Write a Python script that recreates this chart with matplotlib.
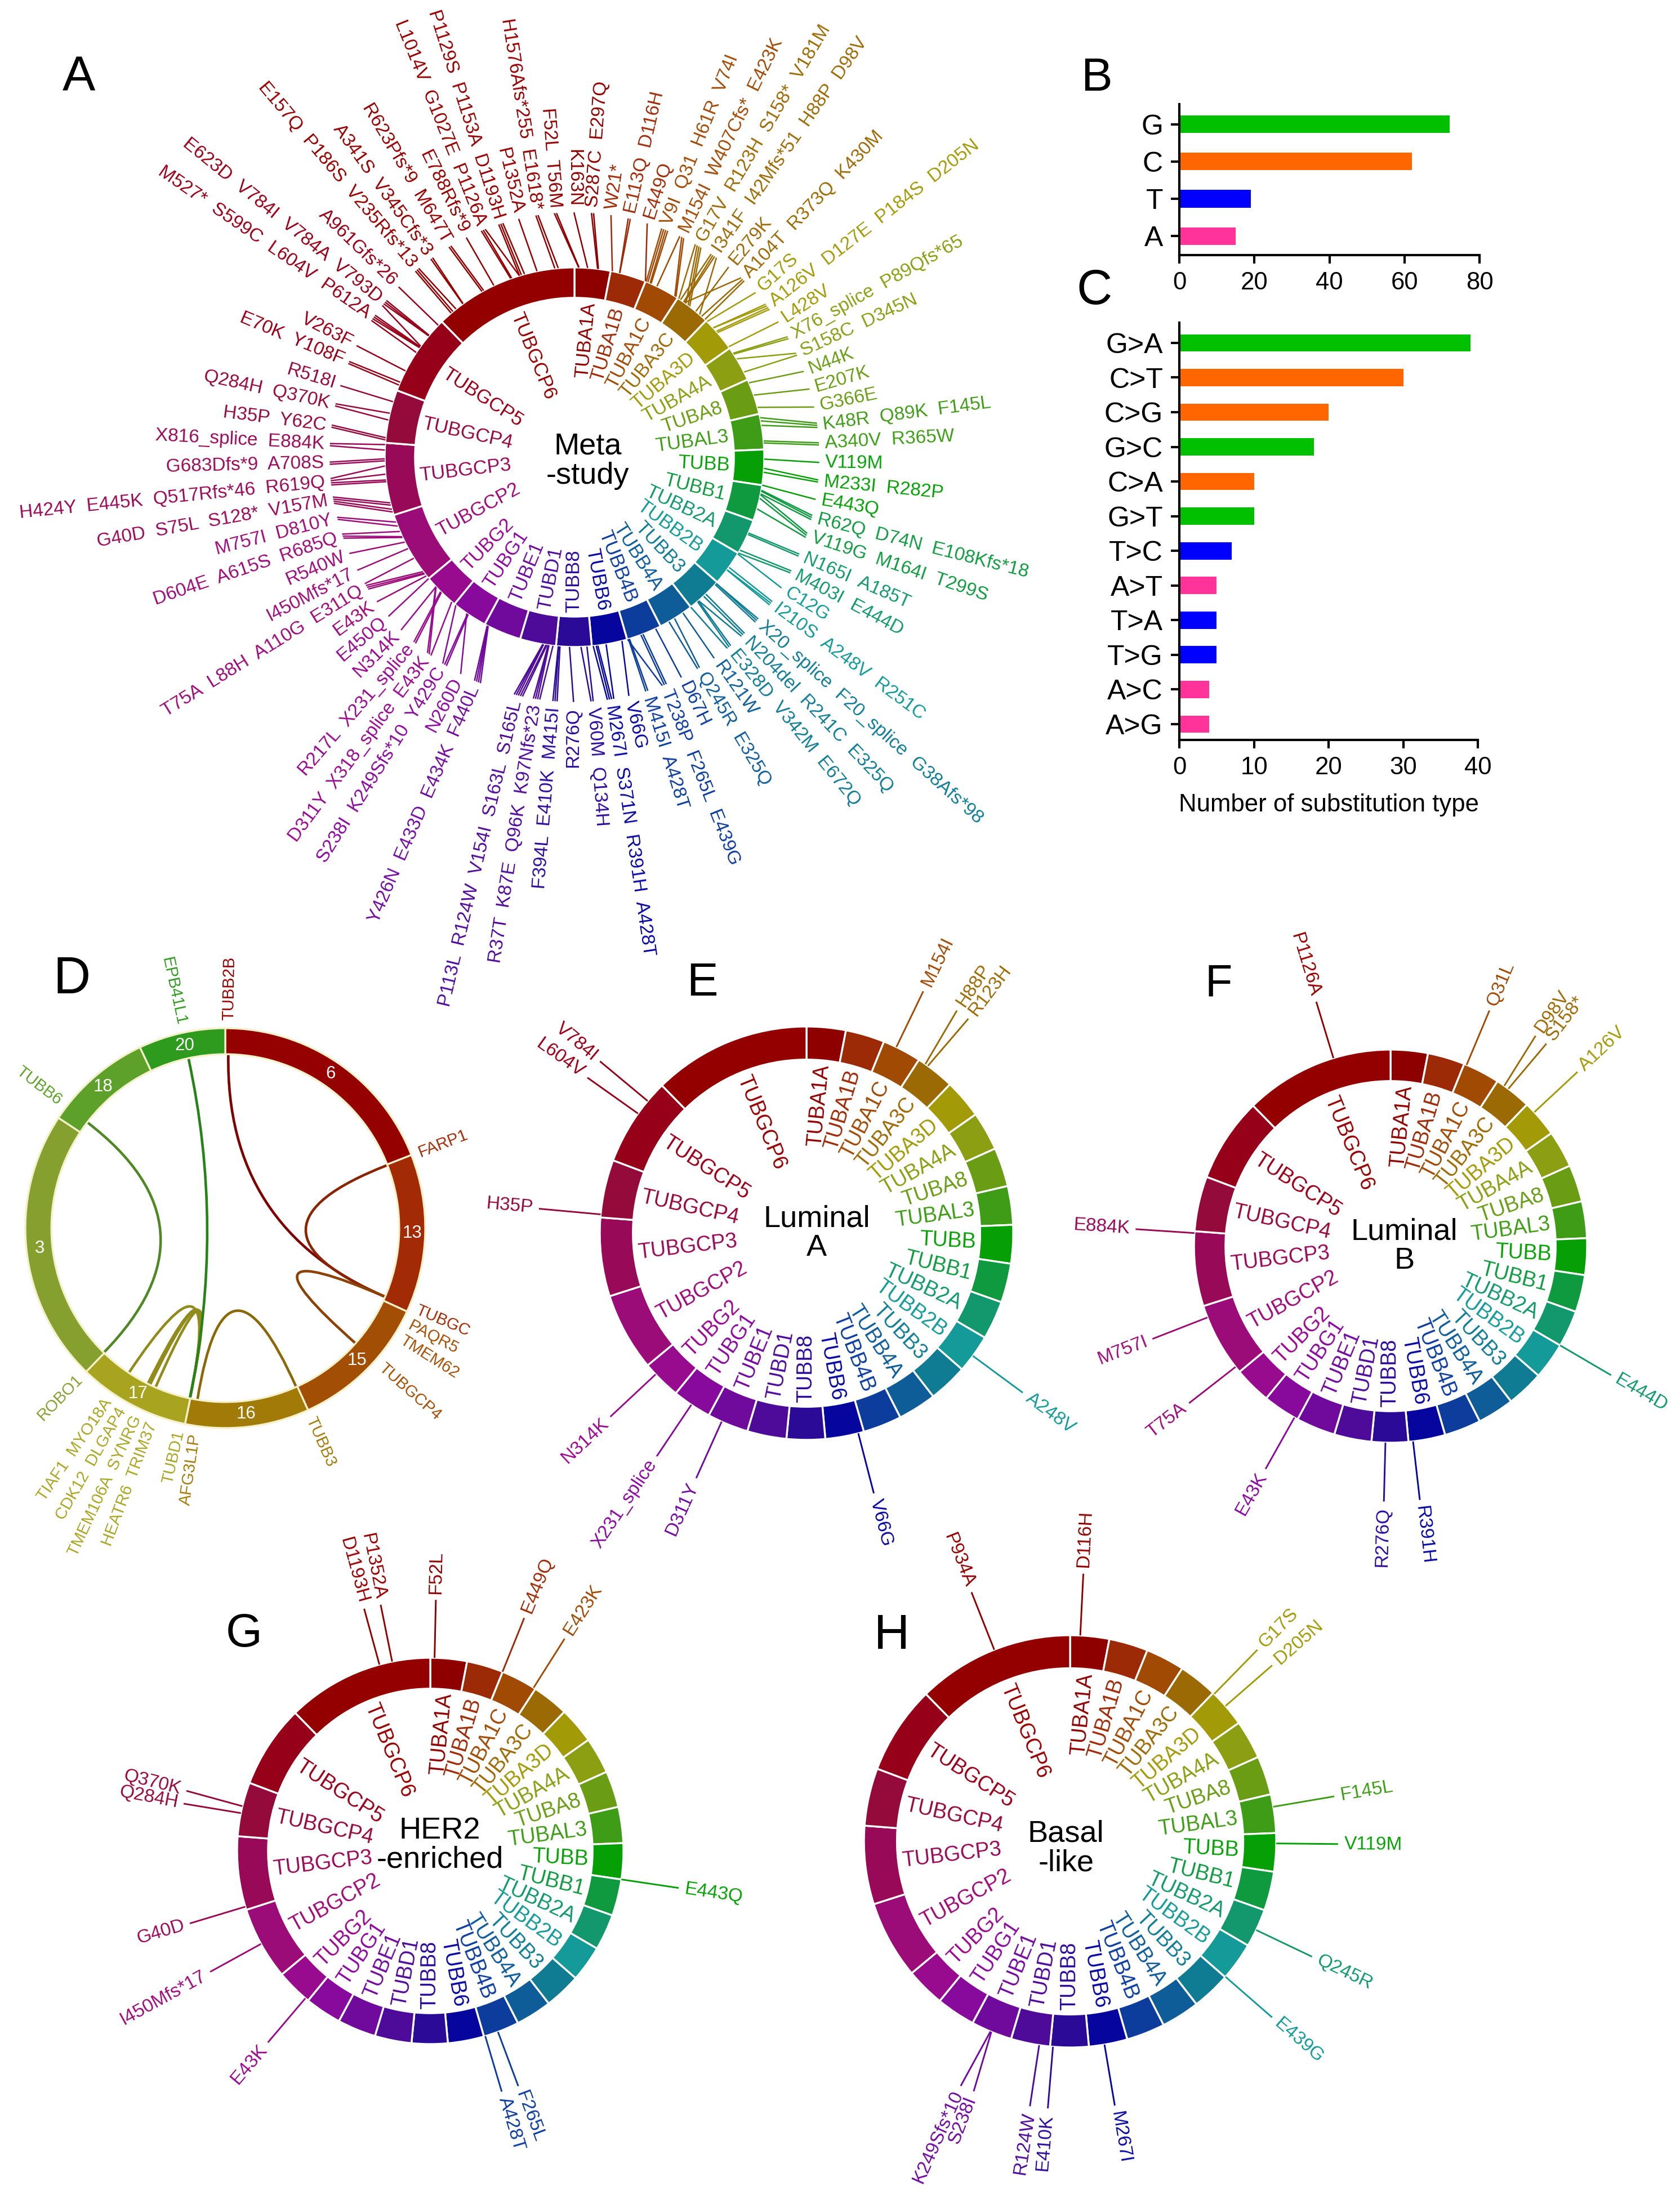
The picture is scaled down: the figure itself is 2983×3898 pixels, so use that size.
import re
import numpy as np
import matplotlib
matplotlib.use("Agg")
import matplotlib.pyplot as plt
from matplotlib.patches import Wedge, PathPatch
from matplotlib.path import Path

plt.rcParams['font.family'] = ['Liberation Sans', 'DejaVu Sans']

W, H = 2983, 3898
DPI = 300

# ---- tubulin ring: genes clockwise from 12 o'clock, protein length (aa)
genes = ["TUBA1A", "TUBA1B", "TUBA1C", "TUBA3C", "TUBA3D", "TUBA4A", "TUBA8",
         "TUBAL3", "TUBB", "TUBB1", "TUBB2A", "TUBB2B", "TUBB3", "TUBB4A",
         "TUBB4B", "TUBB6", "TUBB8", "TUBD1", "TUBE1", "TUBG1", "TUBG2",
         "TUBGCP2", "TUBGCP3", "TUBGCP4", "TUBGCP5", "TUBGCP6"]
gene_len = [451, 451, 449, 450, 450, 448, 449, 446, 444, 451, 445, 445, 450,
            444, 445, 446, 444, 453, 475, 451, 451, 902, 907, 667, 1024, 1819]
gene_colors = ["#8E0000", "#9C2A06", "#A04A04", "#9C6A04", "#A39A08", "#8C9E12",
               "#6A9C14", "#3E9C16", "#06A006", "#109A40", "#12986C", "#149A98",
               "#107C94", "#0E5C98", "#0C3C9C", "#06069E", "#2C0A98", "#4E0A98",
               "#700A9C", "#880A9C", "#980A8E", "#9C0C78", "#980A58", "#940A3A",
               "#960018", "#940000"]

# ---- A: meta-study mutations (gene, label)
meta_muts = [
    ("TUBA1A", "F52L  T56M"), ("TUBA1A", "K163N"), ("TUBA1A", "S287C  E297Q"),
    ("TUBA1B", "W21*"), ("TUBA1B", "E113Q  D116H"), ("TUBA1B", "E449Q"),
    ("TUBA1C", "V9I  Q31  H61R  V74I"), ("TUBA1C", "M154I  W407Cfs*  E423K"),
    ("TUBA3C", "I341F  I42Mfs*51  H88P  D98V"), ("TUBA3C", "G17V  R123H  S158*  V181M"),
    ("TUBA3C", "A104T  R373Q  K430M"), ("TUBA3C", "E279K"),
    ("TUBA3D", "G17S"), ("TUBA3D", "A126V  D127E  P184S  D205N"), ("TUBA3D", "L428V"),
    ("TUBA4A", "X76_splice  P89Qfs*65"), ("TUBA4A", "S158C  D345N"),
    ("TUBA8", "N44K"), ("TUBA8", "E207K"), ("TUBA8", "G366E"),
    ("TUBAL3", "K48R  Q89K  F145L"), ("TUBAL3", "A340V  R365W"),
    ("TUBB", "V119M"), ("TUBB", "M233I  R282P"), ("TUBB", "E443Q"),
    ("TUBB1", "R62Q  D74N  E108Kfs*18"), ("TUBB1", "V119G  M164I  T299S"),
    ("TUBB2A", "N165I  A185T"), ("TUBB2A", "M403I  E444D"),
    ("TUBB2B", "C12G"), ("TUBB2B", "I210S  A248V  R251C"),
    ("TUBB3", "X20_splice  F20_splice  G38Afs*98"), ("TUBB3", "N204del  R241C  E325Q"),
    ("TUBB3", "E328D  V342M  E672Q"),
    ("TUBB4A", "R121W"), ("TUBB4A", "Q245R  E325Q"),
    ("TUBB4B", "D67H"), ("TUBB4B", "T238P  F265L  E439G"), ("TUBB4B", "M415I  A428T"),
    ("TUBB6", "V66G"), ("TUBB6", "M267I  S371N  R391H  A428T"),
    ("TUBB8", "V60M  Q134H"), ("TUBB8", "R276Q"), ("TUBB8", "F394L  E410K  M415I"),
    ("TUBD1", "R37T  K87E  Q96K  K97Nfs*23"), ("TUBD1", "P113L  R124W  V154I  S163L  S165L"),
    ("TUBE1", "Y426N  E433D  E434K  F440L"),
    ("TUBG1", "N260D"), ("TUBG1", "S238I  K249Sfs*10  Y429C"),
    ("TUBG2", "D311Y  X318_splice  E43K"), ("TUBG2", "R217L  X231_splice"),
    ("TUBG2", "N314K"), ("TUBG2", "E450Q"),
    ("TUBGCP2", "E43K"), ("TUBGCP2", "T75A  L88H  A110G  E311Q"), ("TUBGCP2", "I450Mfs*17"),
    ("TUBGCP2", "R540W"), ("TUBGCP2", "D604E  A615S  R685Q"), ("TUBGCP2", "M757I  D810Y"),
    ("TUBGCP3", "G40D  S75L  S128*  V157M"), ("TUBGCP3", "H424Y  E445K  Q517Rfs*46  R619Q"),
    ("TUBGCP3", "G683Dfs*9  A708S"), ("TUBGCP3", "X816_splice  E884K"),
    ("TUBGCP4", "H35P  Y62C"), ("TUBGCP4", "Q284H  Q370K"), ("TUBGCP4", "R518I"),
    ("TUBGCP5", "E70K  Y108F"), ("TUBGCP5", "V263F"), ("TUBGCP5", "M527*  S599C  L604V  P612A"),
    ("TUBGCP5", "E623D  V784I  V784A  V793D"), ("TUBGCP5", "A961Gfs*26"),
    ("TUBGCP6", "E157Q  P186S  V235Rfs*13"), ("TUBGCP6", "A341S  V345Cfs*3"),
    ("TUBGCP6", "R623Pfs*9  M647T"), ("TUBGCP6", "E788Rfs*9"),
    ("TUBGCP6", "L1014V  G1027E  P1126A"), ("TUBGCP6", "P1129S  P1153A  D1193H"),
    ("TUBGCP6", "P1352A"), ("TUBGCP6", "H1576Afs*255  E1618*"),
]

# ---- E-H: subtype mutations
lumA_muts = [("TUBA1C", "M154I"), ("TUBA3C", "H88P"), ("TUBA3C", "R123H"),
             ("TUBB2B", "A248V"), ("TUBB6", "V66G"), ("TUBE1", "D311Y"),
             ("TUBG1", "X231_splice"), ("TUBG2", "N314K"), ("TUBGCP4", "H35P"),
             ("TUBGCP5", "L604V"), ("TUBGCP5", "V784I")]
lumB_muts = [("TUBA1C", "Q31L"), ("TUBA3C", "D98V"), ("TUBA3C", "S158*"),
             ("TUBA3D", "A126V"), ("TUBB2A", "E444D"), ("TUBB6", "R391H"),
             ("TUBB8", "R276Q"), ("TUBG1", "E43K"), ("TUBGCP2", "T75A"),
             ("TUBGCP2", "M757I"), ("TUBGCP3", "E884K"), ("TUBGCP6", "P1126A")]
her2_muts = [("TUBA1A", "F52L"), ("TUBA1B", "E449Q"), ("TUBA1C", "E423K"),
             ("TUBB", "E443Q"), ("TUBB4B", "F265L"), ("TUBB4B", "A428T"),
             ("TUBG2", "E43K"), ("TUBGCP2", "I450Mfs*17"), ("TUBGCP3", "G40D"),
             ("TUBGCP4", "Q284H"), ("TUBGCP4", "Q370K"), ("TUBGCP6", "D1193H"),
             ("TUBGCP6", "P1352A")]
basal_muts = [("TUBA1A", "D116H"), ("TUBA3D", "G17S"), ("TUBA3D", "D205N"),
              ("TUBAL3", "F145L"), ("TUBB", "V119M"), ("TUBB2A", "Q245R"),
              ("TUBB2B", "E439G"), ("TUBB6", "M267I"), ("TUBB8", "E410K"),
              ("TUBD1", "R124W"), ("TUBE1", "S238I"), ("TUBE1", "K249Sfs*10"),
              ("TUBGCP6", "P934A")]

# ---- B, C: substitution counts
bases = ["G", "C", "T", "A"]
base_counts = [72, 62, 19, 15]
subs = ["G>A", "C>T", "C>G", "G>C", "C>A", "G>T", "T>C", "A>T", "T>A", "T>G", "A>C", "A>G"]
sub_counts = [39, 30, 20, 18, 10, 10, 7, 5, 5, 5, 4, 4]
nt_colors = {"G": "#00C000", "C": "#FF6600", "T": "#0000FF", "A": "#FF3399"}

# ---- D: structural variants
chroms = ["6", "13", "15", "16", "17", "3", "18", "20"]
chrom_mb = [171, 115, 102, 90, 81, 198, 78, 63]
chrom_colors = ["#950000", "#A22A05", "#A34E05", "#A27A08", "#A9A420",
                "#86A030", "#5DA02A", "#2E9A1E"]
sv_genes = {"TUBB2B": ("6", 2.5), "FARP1": ("13", 0.5), "TUBGCP3": ("13", 111.5),
            "PAQR5": ("15", 8), "TMEM62": ("15", 18), "TUBGCP4": ("15", 42),
            "TUBB3": ("16", 1), "AFG3L1P": ("16", 84), "TUBD1": ("17", 0.3),
            "TRIM37": ("17", 30), "SYNRG": ("17", 35), "DLGAP4": ("17", 37),
            "MYO18A": ("17", 55), "ROBO1": ("3", 0.5), "TUBB6": ("18", 10),
            "EPB41L1": ("20", 32.5)}
sv_labels = [("TUBB2B", "TUBB2B"), ("FARP1", "FARP1"), ("TUBGC", "TUBGCP3"),
             ("PAQR5", "PAQR5"), ("TMEM62", "TMEM62"), ("TUBGCP4", "TUBGCP4"),
             ("TUBB3", "TUBB3"), ("AFG3L1P", "AFG3L1P"), ("TUBD1", "TUBD1"),
             ("HEATR6  TRIM37", "TRIM37"), ("TMEM106A  SYNRG", "SYNRG"),
             ("CDK12  DLGAP4", "DLGAP4"), ("TIAF1  MYO18A", "MYO18A"),
             ("ROBO1", "ROBO1"), ("TUBB6", "TUBB6"), ("EPB41L1", "EPB41L1")]
sv_links = [("TUBB2B", "TUBGCP3"), ("FARP1", "TUBGCP3"), ("TUBGCP4", "TUBGCP3"),
            ("TUBB3", "AFG3L1P"), ("TUBD1", "MYO18A"), ("TUBD1", "DLGAP4"),
            ("TUBD1", "SYNRG"), ("TUBD1", "TRIM37"), ("EPB41L1", "TUBD1"),
            ("TUBB6", "ROBO1")]

fig = plt.figure(figsize=((W + 0.1) / DPI, (H + 0.1) / DPI), dpi=DPI)

glen = np.array(gene_len, float)
gdeg = 360.0 * glen / glen.sum()
gstart = np.concatenate([[0.0], np.cumsum(gdeg)[:-1]])
gidx = {g: i for i, g in enumerate(genes)}


def circ_axes(cx, cy, r):
    ax = fig.add_axes([(cx - r) / W, 1 - (cy + r) / H, 2 * r / W, 2 * r / H])
    ax.set_xlim(-1, 1)
    ax.set_ylim(-1, 1)
    ax.axis("off")
    return ax


def pol(c, r):
    th = np.radians(90.0 - c)
    return r * np.cos(th), r * np.sin(th)


def radial_text(ax, c, r, s, color, fs, inward=False):
    th = 90.0 - c
    x, y = pol(c, r)
    right = np.cos(np.radians(th)) >= -1e-9
    rot = th if right else th + 180
    if inward:
        ha = "right" if right else "left"
    else:
        ha = "left" if right else "right"
    ax.text(x, y, s, color=color, fontsize=fs, rotation=rot, rotation_mode="anchor",
            ha=ha, va="center", transform_rotates_text=True)


def pava(y):
    vals, cnt = [], []
    for v in y:
        vals.append(v)
        cnt.append(1)
        while len(vals) > 1 and vals[-2] > vals[-1]:
            v2, c2 = vals.pop(), cnt.pop()
            v1, c1 = vals.pop(), cnt.pop()
            vals.append((v1 * c1 + v2 * c2) / (c1 + c2))
            cnt.append(c1 + c2)
    out = []
    for v, c in zip(vals, cnt):
        out += [v] * c
    return np.array(out)


def spread(want, sep):
    # least-squares label angles with neighbours at least sep apart (cut at widest gap)
    w = np.asarray(want, float) % 360.0
    n = len(w)
    order = np.argsort(w)
    s = w[order]
    gaps = np.diff(np.concatenate([s, [s[0] + 360.0]]))
    k = (int(np.argmax(gaps)) + 1) % n
    idx = np.roll(np.arange(n), -k)
    seq = s[idx].copy()
    seq[seq < seq[0]] += 360.0
    steps = np.arange(n) * sep
    b = pava(seq - steps) + steps
    out = np.empty(n)
    out[order[idx]] = b
    return out


def mut_pos(gene, tok):
    i = gidx[gene]
    aa = min(int(re.search(r"\d+", tok).group()), gene_len[i])
    return gstart[i] + gdeg[i] * aa / gene_len[i]


def tub_ring(ax, r_in, fs):
    for i, g in enumerate(genes):
        c0, c1 = gstart[i], gstart[i] + gdeg[i]
        ax.add_patch(Wedge((0, 0), 1.0, 90 - c1, 90 - c0, width=1.0 - r_in,
                           facecolor=gene_colors[i], edgecolor="white", lw=0.8,
                           clip_on=False))
        radial_text(ax, (c0 + c1) / 2, r_in - 0.02, g, gene_colors[i], fs, inward=True)


def tub_muts(ax, items, sep, r_line, r_text, fs, lw):
    pos = [[mut_pos(g, t) for t in lab.split()] for g, lab in items]
    lab_c = spread([np.mean(p) for p in pos], sep)
    for (g, lab), p, c in zip(items, pos, lab_c):
        col = gene_colors[gidx[g]]
        n = len(p)
        for k, pc in enumerate(sorted(p)):
            ce = c + (k - (n - 1) / 2.0) * 0.5
            if abs(((ce - pc) + 180) % 360 - 180) > 90:
                ce = pc
            x0, y0 = pol(pc, 1.0)
            x1, y1 = pol(ce, r_line)
            ax.plot([x0, x1], [y0, y1], color=col, lw=lw, clip_on=False,
                    solid_capstyle="butt")
        radial_text(ax, c, r_text, lab, col, fs)


# ---------------- A
axA = circ_axes(1020, 812, 337)
tub_ring(axA, 0.84, 8.3)
tub_muts(axA, meta_muts, 4.35, 1.29, 1.32, 8, 0.6)
axA.text(0.07, -0.02, "Meta\n-study", ha="center", va="center", fontsize=13,
         linespacing=1.05)

# ---------------- E-H
subtype_panels = [
    (1432, 2190, 367, lumA_muts, "Luminal\nA", (0.05, 0.0)),
    (2469, 2213, 349, lumB_muts, "Luminal\nB", (0.07, 0.0)),
    (764, 3287, 343, her2_muts, "HER2\n-enriched", (0.05, 0.03)),
    (1900, 3270, 366, basal_muts, "Basal\n-like", (-0.02, -0.035)),
]
for cx, cy, r, muts, title, off in subtype_panels:
    ax = circ_axes(cx, cy, r)
    tub_ring(ax, 0.84, 9)
    tub_muts(ax, muts, 3.0, 1.3, 1.33, 8, 0.7)
    ax.text(off[0], off[1], title, ha="center", va="center", fontsize=13,
            linespacing=1.05)

# ---------------- D
axD = circ_axes(400, 2181, 355)
cmb = np.array(chrom_mb, float)
cdeg = 360.0 * cmb / cmb.sum()
cstart = np.concatenate([[0.0], np.cumsum(cdeg)[:-1]])
cidx = {ch: i for i, ch in enumerate(chroms)}


def sv_pos(gene):
    ch, mb = sv_genes[gene]
    i = cidx[ch]
    return cstart[i] + cdeg[i] * mb / chrom_mb[i]


def darker(hexcol, f=0.85):
    return np.array(matplotlib.colors.to_rgb(hexcol)) * f


r_in_d = 0.87
for g1, g2 in sv_links:
    p1 = pol(sv_pos(g1), r_in_d)
    p2 = pol(sv_pos(g2), r_in_d)
    path = Path([p1, (0, 0), p2], [Path.MOVETO, Path.CURVE3, Path.CURVE3])
    col = darker(chrom_colors[cidx[sv_genes[g1][0]]])
    axD.add_patch(PathPatch(path, fill=False, edgecolor=col, lw=1.1, clip_on=False))

for i, ch in enumerate(chroms):
    c0, c1 = cstart[i], cstart[i] + cdeg[i]
    axD.add_patch(Wedge((0, 0), 1.0, 90 - c1, 90 - c0, width=1.0 - r_in_d,
                        facecolor=chrom_colors[i], edgecolor="#F4F0C8", lw=0.8,
                        clip_on=False))
    x, y = pol((c0 + c1) / 2, (1.0 + r_in_d) / 2)
    axD.text(x, y, ch, color="white", fontsize=7.5, ha="center", va="center")

lab_c = spread([sv_pos(g) for _, g in sv_labels], 4.6)
for (txt, g), c in zip(sv_labels, lab_c):
    col = chrom_colors[cidx[sv_genes[g][0]]]
    radial_text(axD, c, 1.04, txt, col, 7)


# ---------------- B
def box(x0, y0, x1, y1):
    return [x0 / W, 1 - y1 / H, (x1 - x0) / W, (y1 - y0) / H]


def style_bar_axes(ax):
    for s in ["top", "right"]:
        ax.spines[s].set_visible(False)
    for s in ["left", "bottom"]:
        ax.spines[s].set_linewidth(1.0)
    ax.tick_params(axis="both", direction="out", length=3.5, width=1.0)
    ax.tick_params(axis="x", labelsize=10.5)
    ax.tick_params(axis="y", labelsize=12)


axB = fig.add_axes(box(2094, 185, 2627, 453))
yb = np.arange(len(bases))[::-1]
axB.barh(yb, base_counts, height=0.47, color=[nt_colors[b] for b in bases])
axB.set_xlim(0, 80)
axB.set_ylim(-0.51, 3.54)
axB.set_yticks(yb)
axB.set_yticklabels(bases)
axB.set_xticks([0, 20, 40, 60, 80])
style_bar_axes(axB)

# ---------------- C
axC = fig.add_axes(box(2094, 573, 2624, 1314))
yc = np.arange(len(subs))[::-1]
axC.barh(yc, sub_counts, height=0.5, color=[nt_colors[s[0]] for s in subs])
axC.set_xlim(0, 40)
axC.set_ylim(-0.455, 11.585)
axC.set_yticks(yc)
axC.set_yticklabels(subs)
axC.set_xticks([0, 10, 20, 30, 40])
axC.set_xlabel("Number of substitution type", fontsize=10.5, labelpad=6)
style_bar_axes(axC)

# ---------------- panel letters
for letter, x, y, fs in [("A", 140, 139, 21), ("B", 1947, 139, 20), ("C", 1943, 517, 21),
                         ("D", 128, 1740, 22), ("E", 1247, 1746, 20), ("F", 2164, 1748, 19),
                         ("G", 433, 2902, 20), ("H", 1583, 2905, 21)]:
    fig.text(x / W, 1 - y / H, letter, fontsize=fs, ha="center", va="center")

fig.savefig("out.png", dpi=DPI, facecolor="white")
